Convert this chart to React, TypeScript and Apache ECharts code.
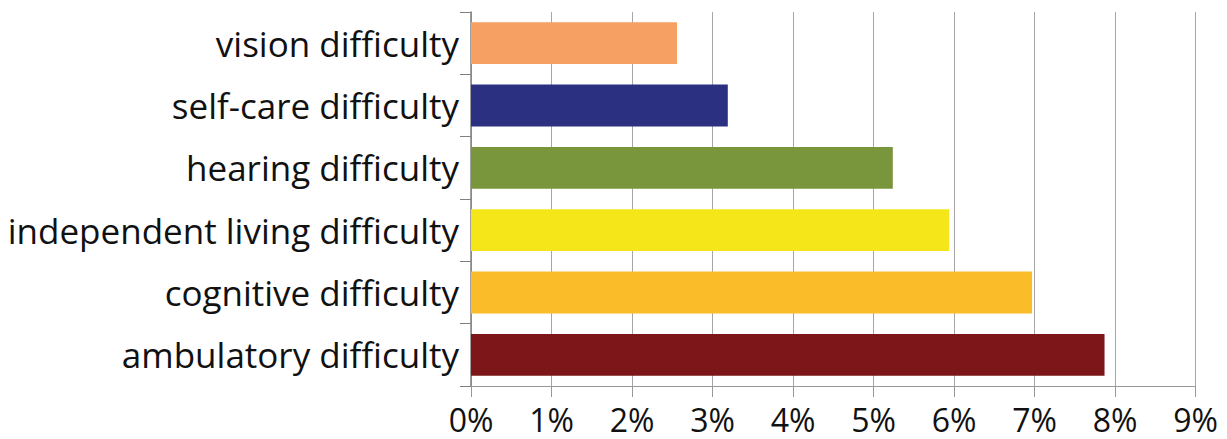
import React, { useEffect, useRef } from "react";
import * as echarts from "echarts";

const categories = [
  "ambulatory difficulty",
  "cognitive difficulty",
  "independent living difficulty",
  "hearing difficulty",
  "self-care difficulty",
  "vision difficulty",
];
const values = [7.87, 6.97, 5.94, 5.24, 3.19, 2.56];
const barColors = ["#7D1619", "#FBBC2A", "#F5E61A", "#7A963C", "#2B3180", "#F7A063"];
const xTicks = [0, 1, 2, 3, 4, 5, 6, 7, 8, 9];

export default function App() {
  const ref = useRef<HTMLDivElement>(null);
  useEffect(() => {
    document.body.style.margin = "0";
    const chart = echarts.init(ref.current!, null, { renderer: "svg" });
    chart.setOption({
      animation: false,
      backgroundColor: "#ffffff",
      grid: { left: 471, right: 31.5, top: 12, bottom: 53, containLabel: false },
      xAxis: {
        type: "value",
        min: 0,
        max: xTicks[xTicks.length - 1],
        interval: 1,
        axisLine: { show: true, lineStyle: { color: "#999999", width: 1 } },
        axisTick: { show: true, length: 11, lineStyle: { color: "#999999" } },
        splitLine: { show: true, lineStyle: { color: "#a6a6a6", width: 1 } },
        axisLabel: {
          formatter: (v: number) => `${v}%`,
          fontFamily: "Open Sans",
          fontSize: 32,
          lineHeight: 32,
          color: "#111111",
          margin: 17,
        },
      },
      yAxis: {
        type: "category",
        data: categories,
        axisLine: { show: true, lineStyle: { color: "#808080", width: 1.5 } },
        axisTick: { show: true, length: 11, lineStyle: { color: "#808080" } },
        axisLabel: {
          fontFamily: "Open Sans",
          fontSize: 35,
          color: "#111111",
          margin: 12,
        },
      },
      series: [
        {
          type: "bar",
          data: values.map((v, i) => ({ value: v, itemStyle: { color: barColors[i] } })),
          barCategoryGap: "33%",
        },
      ],
    });
    return () => chart.dispose();
  }, []);
  return <div ref={ref} style={{ width: 1227, height: 439 }} />;
}
